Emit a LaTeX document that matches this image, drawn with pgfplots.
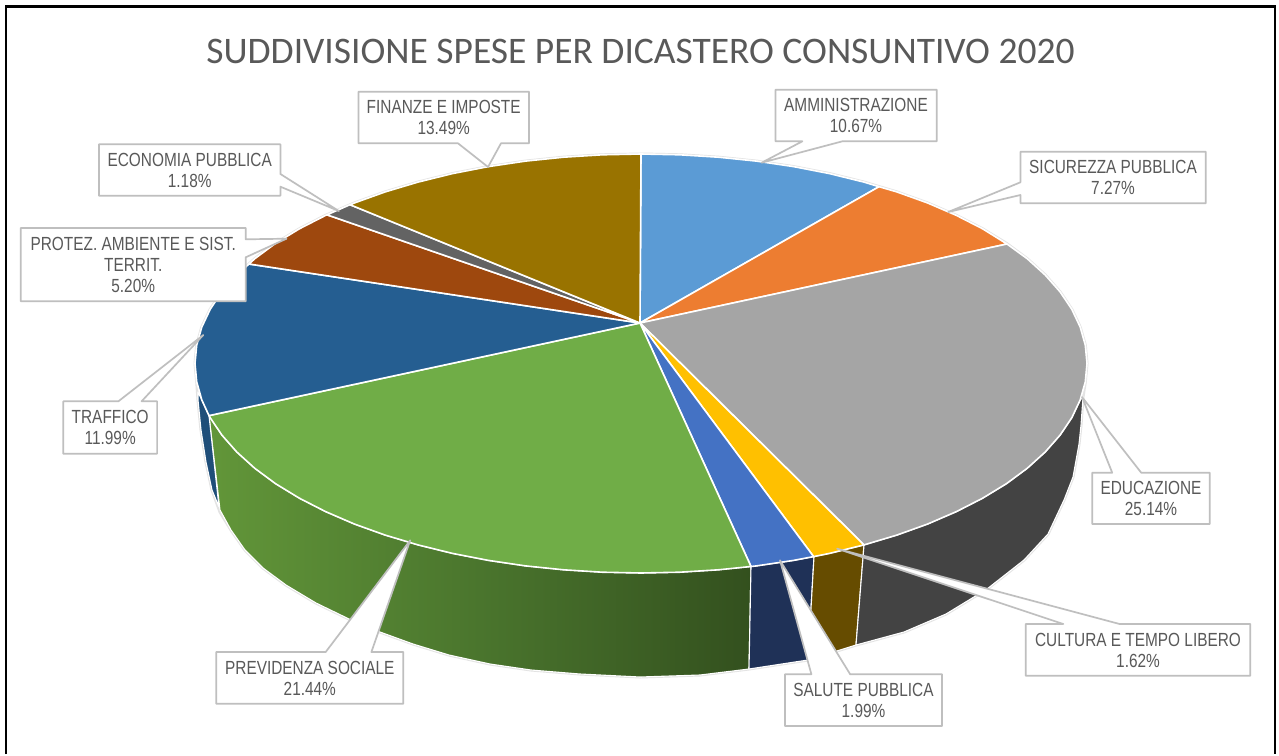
\documentclass[border=0pt]{standalone}
\usepackage{pgfplots}
\pgfplotsset{compat=1.18}
\usepackage{fontspec}
\setmainfont{Carlito}
\newfontfamily\lab[FakeStretch=0.81]{Liberation Sans}
\definecolor{txt}{HTML}{595959}
\definecolor{edge}{HTML}{BFBFBF}
\definecolor{HTMLA}{HTML}{629639}
\definecolor{HTMLB}{HTML}{4A752D}
\definecolor{HTMLC}{HTML}{33501E}
\definecolor{HTMLD}{HTML}{1F4E79}
\definecolor{HTMLE}{HTML}{1F3157}
\definecolor{HTMLF}{HTML}{664C00}
\definecolor{HTMLG}{HTML}{434343}
\definecolor{HTMLa}{HTML}{5B9BD5}
\definecolor{HTMLb}{HTML}{ED7D31}
\definecolor{HTMLc}{HTML}{A5A5A5}
\definecolor{HTMLd}{HTML}{FFC000}
\definecolor{HTMLe}{HTML}{4472C4}
\definecolor{HTMLf}{HTML}{70AD47}
\definecolor{HTMLg}{HTML}{255E91}
\definecolor{HTMLh}{HTML}{9E480E}
\definecolor{HTMLi}{HTML}{636363}
\definecolor{HTMLj}{HTML}{997300}
\pgfplotsset{
  slice/.style={draw=white,line width=1.6pt,line join=round,mark=none},
  side/.style={draw=white,line width=1.1pt,line join=round,mark=none},
  call/.style={draw=edge,fill=white,line width=1.7pt,line join=round,mark=none},
}
\tikzset{lbl/.style={font=\lab\fontsize{19pt}{21pt}\selectfont,text=txt,align=center,inner sep=0pt}}
\begin{document}
\begin{tikzpicture}
\begin{axis}[
  width=1279pt,height=754pt,scale only axis,
  xmin=0,xmax=1279,ymin=0,ymax=754,y dir=reverse,
  axis lines=none,ticks=none,clip=false,
]
% page
\addplot[draw=none,fill=white,mark=none] coordinates {(0,0)(1279,0)(1279,754)(0,754)} -- cycle;
% frame
\addplot[black,line width=2.4pt,mark=none] coordinates {(6,754) (6,6.5) (1275,6.5) (1275,754)};
% halo round the whole pie
\addplot[draw=black!11,line width=3pt,mark=none,line join=round] coordinates {
(1087,363.5)(1085.3,381.8)(1083,397)(1081,425)(1079,444)(1073,477)(1064,500)(1048,534)(1024,560)(987,589)(946,614)(904,632)(856,645)(808,660)(749,669)(700,675)(640,677)(580,674)(531,670)(490,664)(449,655)(413,644)(380,632)(349,619)(316,603)(286,585)(263,568)(245,550)(231,530)(220,512)(212,490)(206,462)(201,430)(198,400)(196.7,381.8)(195,363.5)(196.7,345.2)(201.8,327.1)(210.2,309.3)(221.9,291.9)(236.8,275)(254.8,258.7)(275.6,243.3)(299.4,228.8)(325.6,215.4)(354.3,203)(385.2,191.9)(418,182.1)(452.5,173.6)(488.5,166.6)(525.6,161.1)(563.6,157.2)(602.1,154.8)(641,154)(679.9,154.8)(718.4,157.2)(756.4,161.1)(793.5,166.6)(829.5,173.6)(864,182.1)(896.8,191.9)(927.7,203)(956.4,215.4)(982.6,228.8)(1006.4,243.3)(1027.2,258.7)(1045.2,275)(1060.1,291.9)(1071.8,309.3)(1080.2,327.1)(1085.3,345.2)} -- cycle;
% sides
\addplot[side,left color=HTMLA,right color=HTMLC,middle color=HTMLB] coordinates {
(751,566.5)(718.4,569.8)(679.9,572.2)(641,573)(602.1,572.2)(563.6,569.8)(525.6,565.9)(488.5,560.4)(452.5,553.4)(418,544.9)(385.2,535.1)(354.3,524)(325.6,511.6)(299.4,498.2)(275.6,483.7)(254.8,468.3)(236.8,452)(221.9,435.1)(209,415.6)
(220,510)(231,530)(245,550)(263,568)(286,585)(316,603)(349,619)(380,632)(413,644)(449,655)(490,664)(531,670)(580,674)(640,677)(700,675)(749,669)} -- cycle;
\addplot[side,fill=HTMLD] coordinates {
(209,415.6)(201.8,399.9)(198,392)(198,400)(201,430)(206,462)(212,490)(219,507)} -- cycle;
\addplot[side,fill=HTMLE] coordinates {
(814,556.6)(793.5,560.4)(756.4,565.9)(751,566.5)(749,669)(808,660)} -- cycle;
\addplot[side,fill=HTMLF] coordinates {
(864,544.9)(829.5,553.4)(814,556.6)(808,660)(856,645)} -- cycle;
\addplot[side,fill=HTMLG] coordinates {
(1083,397)(1080.2,399.9)(1071.8,417.7)(1060.1,435.1)(1045.2,452)(1027.2,468.3)(1006.4,483.7)(982.6,498.2)(956.4,511.6)(927.7,524)(896.8,535.1)(864,544.9)
(856,645)(904,632)(946,614)(987,589)(1024,560)(1048,534)(1064,500)(1073,477)(1079,444)(1081,425)} -- cycle;
% top faces
\addplot[slice,fill=HTMLa] coordinates {(640,323)(641,154)(679.9,154.8)(718.4,157.2)(756.4,161.1)(793.5,166.6)(829.5,173.6)(864,182.1)(879,186.7)} -- cycle;
\addplot[slice,fill=HTMLb] coordinates {(640,323)(879,186.7)(896.8,191.9)(927.7,203)(956.4,215.4)(982.6,228.8)(1007,244)} -- cycle;
\addplot[slice,fill=HTMLc] coordinates {(640,323)(1007,244)(1027.2,258.7)(1045.2,275)(1060.1,291.9)(1071.8,309.3)(1080.2,327.1)(1085.3,345.2)(1087,363.5)(1085.3,381.8)(1080.2,399.9)(1071.8,417.7)(1060.1,435.1)(1045.2,452)(1027.2,468.3)(1006.4,483.7)(982.6,498.2)(956.4,511.6)(927.7,524)(896.8,535.1)(864,544.9)} -- cycle;
\addplot[slice,fill=HTMLd] coordinates {(640,323)(864,544.9)(829.5,553.4)(813.6,556.6)} -- cycle;
\addplot[slice,fill=HTMLe] coordinates {(640,323)(813.6,556.6)(793.5,560.4)(756.4,565.9)(751,566.5)} -- cycle;
\addplot[slice,fill=HTMLf] coordinates {(640,323)(751,566.5)(718.4,569.8)(679.9,572.2)(641,573)(602.1,572.2)(563.6,569.8)(525.6,565.9)(488.5,560.4)(452.5,553.4)(418,544.9)(385.2,535.1)(354.3,524)(325.6,511.6)(299.4,498.2)(275.6,483.7)(254.8,468.3)(236.8,452)(221.9,435.1)(210.2,417.7)(209,415.6)} -- cycle;
\addplot[slice,fill=HTMLg] coordinates {(640,323)(209,415.6)(201.8,399.9)(196.7,381.8)(195,363.5)(196.7,345.2)(201.8,327.1)(210.2,309.3)(221.9,291.9)(236.8,275)(249,264)} -- cycle;
\addplot[slice,fill=HTMLh] coordinates {(640,323)(249,264)(254.8,258.7)(275.6,243.3)(299.4,228.8)(325.6,215.4)(327,214.8)} -- cycle;
\addplot[slice,fill=HTMLi] coordinates {(640,323)(327,214.8)(350,204.7)} -- cycle;
\addplot[slice,fill=HTMLj] coordinates {(640,323)(350,204.7)(354.3,203)(385.2,191.9)(418,182.1)(452.5,173.6)(488.5,166.6)(525.6,161.1)(563.6,157.2)(602.1,154.8)(641,154)} -- cycle;
% callouts
\addplot[call] coordinates {(358.4,91.7)(529,91.7)(529,143.3)(501,143.3)(488,167)(458,143.3)(358.4,143.3)} -- cycle;
\addplot[call] coordinates {(99,144.3)(280.4,144.3)(280.4,174)(338.8,211)(280.4,186.7)(280.4,195.7)(99,195.7)} -- cycle;
\addplot[call] coordinates {(20.8,228)(245.7,228)(245.7,239.3)(286.5,238.7)(245.7,257.3)(245.7,301.3)(20.8,301.3)} -- cycle;
\addplot[call] coordinates {(775.5,89.7)(936.7,89.7)(936.7,141.3)(842.4,141.3)(761.6,162.7)(802.4,141.3)(775.5,141.3)} -- cycle;
\addplot[call] coordinates {(1020.4,151.7)(1205.7,151.7)(1205.7,203.3)(1020.4,203.3)(1020.4,195)(948.2,212)(1020.4,182.3)} -- cycle;
\addplot[call] coordinates {(63.3,401.3)(118.4,401.3)(203.3,335)(141.6,401.3)(157.1,401.3)(157.1,453.7)(63.3,453.7)} -- cycle;
\addplot[call] coordinates {(216.3,652)(325.7,652)(410.2,540.3)(371.4,652)(403.3,652)(403.3,703.7)(216.3,703.7)} -- cycle;
\addplot[call] coordinates {(1092.2,472.7)(1112.2,472.7)(1082,397)(1141.2,472.7)(1209.8,472.7)(1209.8,524)(1092.2,524)} -- cycle;
\addplot[call] coordinates {(1025.7,624)(1063.3,624)(837.1,548.7)(1119.6,624)(1250.2,624)(1250.2,675.7)(1025.7,675.7)} -- cycle;
\addplot[call] coordinates {(784.9,674.3)(811.4,674.3)(780,560.3)(850.2,674.3)(942,674.3)(942,726)(784.9,726)} -- cycle;
% texts
\node[text=txt,font=\fontsize{37.5pt}{40pt}\selectfont,inner sep=0pt] at (axis cs:640.5,51) {SUDDIVISIONE SPESE PER DICASTERO CONSUNTIVO 2020};
\node[lbl] at (axis cs:443.7,117.5) {FINANZE E IMPOSTE\\13.49\%};
\node[lbl] at (axis cs:189.7,170) {ECONOMIA PUBBLICA\\1.18\%};
\node[lbl] at (axis cs:133.2,264.7) {PROTEZ. AMBIENTE E SIST.\\TERRIT.\\5.20\%};
\node[lbl] at (axis cs:856,115.5) {AMMINISTRAZIONE\\10.67\%};
\node[lbl] at (axis cs:1113,177.5) {SICUREZZA PUBBLICA\\7.27\%};
\node[lbl] at (axis cs:110.2,427.5) {TRAFFICO\\11.99\%};
\node[lbl] at (axis cs:309.8,678) {PREVIDENZA SOCIALE\\21.44\%};
\node[lbl] at (axis cs:1151,498.5) {EDUCAZIONE\\25.14\%};
\node[lbl] at (axis cs:1138,650) {CULTURA E TEMPO LIBERO\\1.62\%};
\node[lbl] at (axis cs:863.5,700) {SALUTE PUBBLICA\\1.99\%};
\end{axis}
\end{tikzpicture}
\end{document}
